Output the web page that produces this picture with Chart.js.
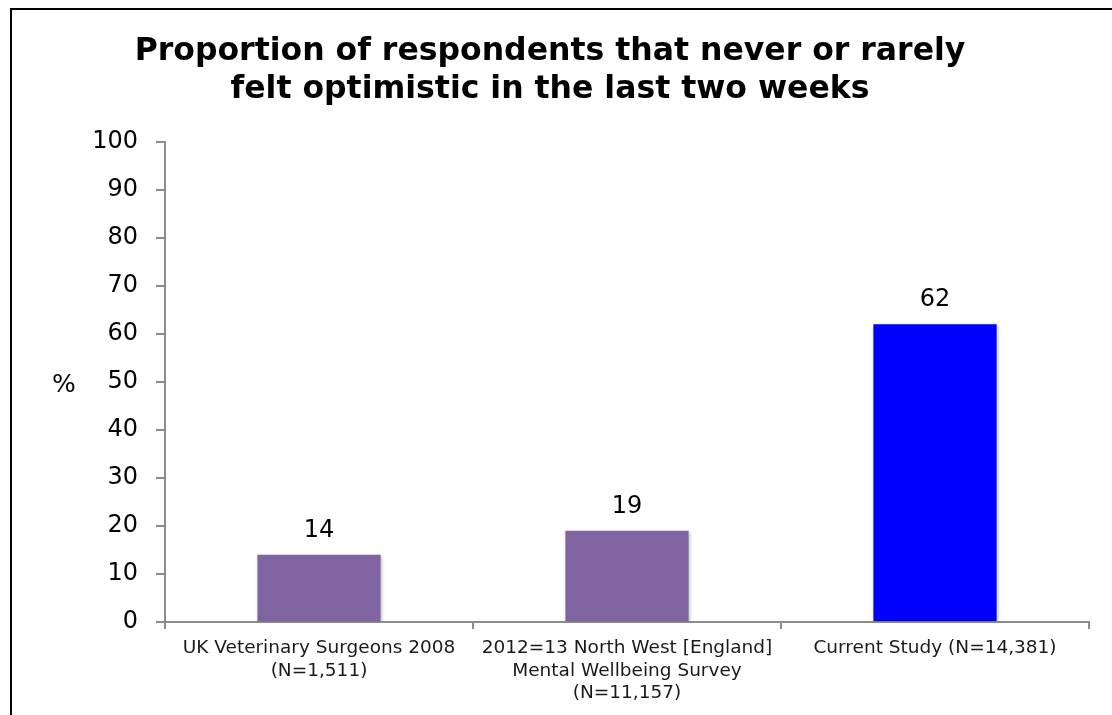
<!DOCTYPE html>
<html>
<head>
<meta charset="utf-8">
<title>Optimism survey chart</title>
<script src="https://cdn.jsdelivr.net/npm/chart.js@4/dist/chart.umd.min.js"></script>
<style>
    html, body { margin: 0; background: #fff; overflow: hidden; width: 1112px; height: 715px; }
    #frame {
        position: absolute;
        left: 10px;
        top: 8px;
        width: 1300px;
        height: 900px;
        border-left: 2px solid #000;
        border-top: 2px solid #000;
    }
    #wrap {
        position: absolute;
        left: 0;
        top: 0;
        width: 1112px;
        height: 715px;
    }
</style>
</head>
<body>
<div id="frame"></div>
<div id="wrap"><canvas id="chart" width="1112" height="715"></canvas></div>
<script>
// Survey groups and share who never/rarely felt optimistic (%)
const categories = [
    ['UK Veterinary Surgeons 2008', '(N=1,511)'],
    ['2012=13 North West [England]', 'Mental Wellbeing Survey', '(N=11,157)'],
    ['Current Study (N=14,381)']
];
const values = [14, 19, 62];
const barColors = ['#8064A2', '#8064A2', '#0000FF'];
const titleLines = ['Proportion of respondents that never or rarely', 'felt optimistic in the last two weeks'];
const yLabel = '%';

const FONT = "'DejaVu Sans', Verdana, sans-serif";

// Value labels above each bar + the horizontal "%" axis label
const labelsPlugin = {
    id: 'barLabels',
    beforeDatasetDraw(chart) {
        const ctx = chart.ctx;
        ctx.save();
        ctx.shadowColor = 'rgba(0,0,0,0.25)';
        ctx.shadowBlur = 3;
        ctx.shadowOffsetX = 1;
        ctx.shadowOffsetY = 1;
    },
    afterDatasetDraw(chart) {
        chart.ctx.restore();
    },
    afterDraw(chart) {
        const ctx = chart.ctx;
        const meta = chart.getDatasetMeta(0);
        ctx.save();
        ctx.fillStyle = '#000';
        ctx.font = '24px ' + FONT;
        ctx.textAlign = 'center';
        ctx.textBaseline = 'bottom';
        meta.data.forEach((bar, i) => {
            ctx.fillText(String(values[i]), bar.x, bar.y - 12);
        });
        const area = chart.chartArea;
        ctx.font = '25px ' + FONT;
        ctx.textBaseline = 'middle';
        ctx.fillText(yLabel, 64, (area.top + area.bottom) / 2 + 4);
        ctx.restore();
    }
};

new Chart(document.getElementById('chart'), {
    type: 'bar',
    data: {
        labels: categories,
        datasets: [{
            data: values,
            backgroundColor: barColors,
            borderWidth: 0,
            categoryPercentage: 1,
            barPercentage: 0.4
        }]
    },
    options: {
        responsive: false,
        animation: false,
        layout: { padding: { left: 11, right: 23, top: 0, bottom: 0 } },
        plugins: {
            legend: { display: false },
            tooltip: { enabled: false },
            title: {
                display: true,
                text: titleLines,
                color: '#000',
                font: { family: FONT, size: 31.5, weight: 'bold', lineHeight: 1.2 },
                padding: { top: 33, bottom: 33 }
            }
        },
        scales: {
            x: {
                offset: true,
                grid: {
                    offset: true,
                    drawOnChartArea: false,
                    drawTicks: true,
                    tickLength: 7,
                    color: '#8c8c8c',
                    lineWidth: 2
                },
                border: { color: '#8c8c8c', width: 2 },
                ticks: {
                    color: '#1a1a1a',
                    padding: 8,
                    maxRotation: 0,
                    autoSkip: false,
                    font: { family: FONT, size: 18.5, lineHeight: 1.22 }
                },
                afterFit(scale) { scale.height = 93; }
            },
            y: {
                min: 0,
                max: 100,
                ticks: {
                    stepSize: 10,
                    color: '#000',
                    padding: 18,
                    font: { family: FONT, size: 24 }
                },
                grid: {
                    drawOnChartArea: false,
                    drawTicks: true,
                    tickLength: 9,
                    color: '#8c8c8c',
                    lineWidth: 2
                },
                border: { color: '#8c8c8c', width: 2 },
                afterFit(scale) { scale.width = 154; }
            }
        }
    },
    plugins: [labelsPlugin]
});
</script>
</body>
</html>
